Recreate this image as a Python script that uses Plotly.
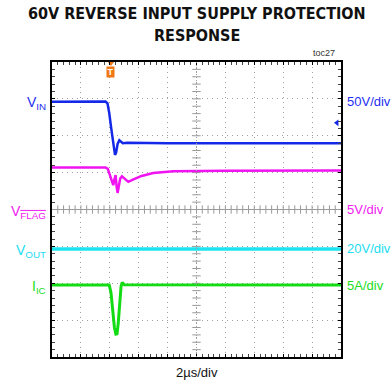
import numpy as np
import plotly.graph_objects as go

# Time axis in screen divisions (2 µs/div, 10 divisions)
t_vin = [0, 1.85, 1.92, 1.98, 2.05, 2.11, 2.15, 2.18, 2.22, 2.27, 2.33, 2.38, 2.45, 2.6, 4.0, 10]
vin_div = [6.92, 6.93, 6.88, 6.62, 6.2, 5.8, 5.56, 5.48, 5.55, 5.78, 5.88, 5.84, 5.80, 5.81, 5.80, 5.80]

t_flag = [0, 1.85, 1.93, 2.02, 2.09, 2.12, 2.16, 2.20, 2.24, 2.27, 2.31, 2.36, 2.42, 2.48, 2.56, 2.64, 2.8, 3.1, 3.5, 4.2, 6.0, 10]
vflag_div = [5.14, 5.14, 5.10, 4.90, 4.70, 4.66, 4.82, 4.93, 4.60, 4.45, 4.62, 4.84, 4.90, 4.86, 4.78, 4.75, 4.81, 4.91, 4.99, 5.04, 5.05, 5.06]

t_out = [0, 10]
vout_div = [2.93, 2.93]

t_iic = [0, 1.98, 2.04, 2.10, 2.16, 2.21, 2.25, 2.29, 2.34, 2.39, 2.43, 2.50, 10]
iic_div = [1.95, 1.95, 1.75, 1.25, 0.80, 0.62, 0.63, 0.90, 1.45, 1.92, 2.02, 1.96, 1.95]

# Channel labels: (left name, right scale, level in divisions, colour)
channels = [
    ("V<sub>IN</sub>", "50V/div", 6.93, "#1f2ff0"),
    ("V<sub><span style='text-decoration:overline'>FLAG</span></sub>", "5V/div", 4.0, "#f020f0"),
    ("V<sub>OUT</sub>", "20V/div", 2.93, "#22dcf0"),
    ("I<sub>IC</sub>", "5A/div", 1.95, "#22dd22"),
]

W, H = 391, 381
L, R, T, B = 52, 50, 62, 24

fig = go.Figure()

# Centre cross-hair with small division ticks
fig.add_shape(type="line", x0=0, x1=10, y0=4, y1=4, line=dict(color="#9a9a9a", width=1))
fig.add_shape(type="line", x0=5, x1=5, y0=0, y1=8, line=dict(color="#9a9a9a", width=1, dash="1px,2px"))
hx = np.arange(0.2, 10, 0.2)
vy = np.arange(0.2, 8, 0.2)
fig.add_trace(go.Scatter(x=hx, y=np.full_like(hx, 4.0), mode="markers",
                         marker=dict(symbol="line-ns", size=6, line=dict(color="#9a9a9a", width=1)),
                         hoverinfo="skip", showlegend=False))
fig.add_trace(go.Scatter(x=np.full_like(vy, 5.0), y=vy, mode="markers",
                         marker=dict(symbol="line-ew", size=6, line=dict(color="#9a9a9a", width=1)),
                         hoverinfo="skip", showlegend=False))

# Waveforms
fig.add_trace(go.Scatter(x=t_vin, y=vin_div, mode="lines", line=dict(color="#1428e8", width=2.5),
                         showlegend=False))
fig.add_trace(go.Scatter(x=t_flag, y=vflag_div, mode="lines", line=dict(color="#f014f0", width=2.5),
                         showlegend=False))
fig.add_trace(go.Scatter(x=t_out, y=vout_div, mode="lines", line=dict(color="#1ee4f0", width=3.5),
                         showlegend=False))
fig.add_trace(go.Scatter(x=t_iic, y=iic_div, mode="lines", line=dict(color="#14dc14", width=3),
                         showlegend=False))

# Ground/reference marker at right edge and trigger marker at top
fig.add_trace(go.Scatter(x=[9.86], y=[6.35], mode="markers",
                         marker=dict(symbol="triangle-left", size=6, color="#1428e8"),
                         cliponaxis=False, showlegend=False))
fig.add_trace(go.Scatter(x=[2.04], y=[7.97], mode="markers",
                         marker=dict(symbol="triangle-down", size=6, color="#f07814"),
                         cliponaxis=False, showlegend=False))
fig.add_annotation(x=2.04, y=7.74, text="<b>T</b>", showarrow=False,
                   font=dict(family="Liberation Sans, Arial", size=9, color="white"),
                   bgcolor="#f07814", borderpad=0, width=7, height=10)

axis_common = dict(showgrid=True, gridcolor="#a0a0a0", griddash="1px,4px", gridwidth=1,
                   zeroline=False, showline=True, linecolor="black", linewidth=2,
                   mirror="ticks", ticks="inside", ticklen=3, tickcolor="black",
                   showticklabels=False, dtick=1, tick0=0,
                   minor=dict(ticks="inside", ticklen=3, dtick=0.2, tickcolor="#444", showgrid=False))
fig.update_xaxes(range=[0, 10], **axis_common)
fig.update_yaxes(range=[0, 8], **axis_common)

label_font = "Liberation Sans, Arial, sans-serif"
for name, scale, lvl, col in channels:
    fig.add_annotation(x=0, y=lvl, xref="x", yref="y", xanchor="right", yanchor="middle",
                       xshift=-4, yshift=-2, text=name, showarrow=False,
                       font=dict(family=label_font, size=14, color=col))
    fig.add_annotation(x=10, y=lvl, xref="x", yref="y", xanchor="left", yanchor="middle",
                       xshift=4, text=scale, showarrow=False,
                       font=dict(family=label_font, size=13, color=col))

title_font = dict(family="Liberation Sans Narrow, Arial Narrow, DejaVu Sans Condensed, sans-serif",
                  size=16, color="#111")
fig.add_annotation(xref="paper", yref="paper", x=0.5, y=1, yanchor="bottom", yshift=37,
                   text="<b>60V REVERSE INPUT SUPPLY PROTECTION</b>", showarrow=False, font=title_font)
fig.add_annotation(xref="paper", yref="paper", x=0.5, y=1, yanchor="bottom", yshift=15,
                   text="<b>RESPONSE</b>", showarrow=False, font=title_font)
fig.add_annotation(xref="paper", yref="paper", x=0.985, y=1, xanchor="right", yanchor="bottom", yshift=2,
                   text="toc27", showarrow=False, font=dict(family=label_font, size=9, color="#333"))
fig.add_annotation(xref="paper", yref="paper", x=0.5, y=0, yanchor="top", yshift=-6,
                   text="2µs/div", showarrow=False, font=dict(family=label_font, size=13, color="#111"))

fig.update_layout(width=W, height=H, margin=dict(l=L, r=R, t=T, b=B),
                  paper_bgcolor="white", plot_bgcolor="white")

fig.write_html("out.html")
